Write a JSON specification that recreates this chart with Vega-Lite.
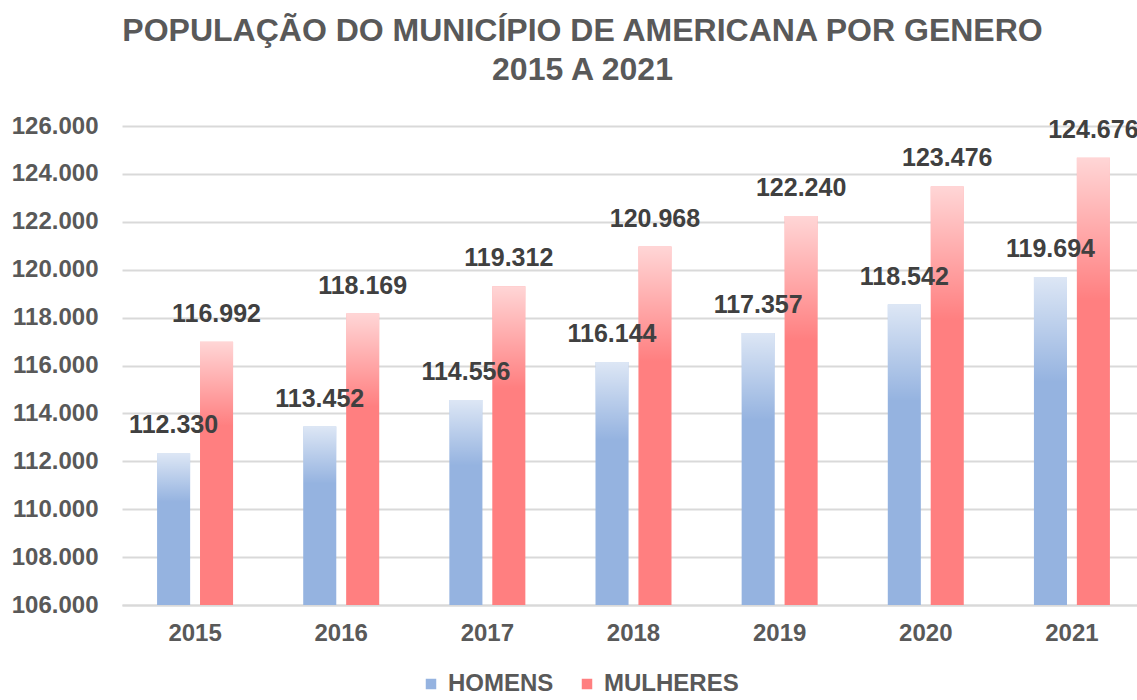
{
  "$schema": "https://vega.github.io/schema/vega-lite/v6.json",
  "autosize": {"type": "none"},
  "width": 1023,
  "height": 479,
  "padding": {"left": 122, "top": 126, "right": 0, "bottom": 95},
  "background": "white",
  "title": {
    "text": ["POPULAÇÃO DO MUNICÍPIO DE AMERICANA POR GENERO", "2015 A 2021"],
    "fontSize": 32,
    "lineHeight": 39,
    "font": "Liberation Sans",
    "fontWeight": "bold",
    "color": "#595959",
    "anchor": "middle",
    "dx": -51,
    "offset": 27
  },
  "data": {
    "values": [
      {"ano": "2015", "genero": "HOMENS", "pop": 112330},
      {"ano": "2015", "genero": "MULHERES", "pop": 116992},
      {"ano": "2016", "genero": "HOMENS", "pop": 113452},
      {"ano": "2016", "genero": "MULHERES", "pop": 118169},
      {"ano": "2017", "genero": "HOMENS", "pop": 114556},
      {"ano": "2017", "genero": "MULHERES", "pop": 119312},
      {"ano": "2018", "genero": "HOMENS", "pop": 116144},
      {"ano": "2018", "genero": "MULHERES", "pop": 120968},
      {"ano": "2019", "genero": "HOMENS", "pop": 117357},
      {"ano": "2019", "genero": "MULHERES", "pop": 122240},
      {"ano": "2020", "genero": "HOMENS", "pop": 118542},
      {"ano": "2020", "genero": "MULHERES", "pop": 123476},
      {"ano": "2021", "genero": "HOMENS", "pop": 119694},
      {"ano": "2021", "genero": "MULHERES", "pop": 124676}
    ]
  },
  "encoding": {
    "x": {
      "field": "ano",
      "type": "nominal",
      "title": null,
      "scale": {"paddingInner": 0.48, "paddingOuter": 0.24},
      "axis": {
        "labelAngle": 0,
        "labelFont": "Liberation Sans",
        "labelFontSize": 24,
        "labelFontWeight": "bold",
        "labelColor": "#595959",
        "labelPadding": 16,
        "ticks": false,
        "tickSize": 0,
        "domain": true,
        "domainColor": "#d9d9d9",
        "domainWidth": 2,
        "grid": false
      }
    },
    "xOffset": {
      "field": "genero",
      "type": "nominal",
      "scale": {"domain": ["HOMENS", "MULHERES"], "paddingInner": 0.23, "paddingOuter": 0}
    },
    "y": {
      "field": "pop",
      "type": "quantitative",
      "title": null,
      "scale": {"domain": [106000, 126000], "nice": false, "zero": false},
      "axis": {
        "values": [106000, 108000, 110000, 112000, 114000, 116000, 118000, 120000, 122000, 124000, 126000],
        "format": ",d",
        "labelFont": "Liberation Sans",
        "labelFontSize": 24,
        "labelFontWeight": "bold",
        "labelColor": "#595959",
        "labelPadding": 24,
        "ticks": false,
        "tickSize": 0,
        "domain": false,
        "grid": true,
        "gridColor": "#d9d9d9",
        "gridWidth": 2
      }
    }
  },
  "layer": [
    {
      "mark": {"type": "bar"},
      "encoding": {
        "y2": {"datum": 106000},
        "color": {
          "field": "genero",
          "type": "nominal",
          "title": null,
          "scale": {"domain": ["HOMENS", "MULHERES"], "range": ["#95b3e0", "#ff7f80"]},
          "legend": {
            "orient": "none",
            "legendX": 297,
            "legendY": 546,
            "direction": "horizontal",
            "symbolType": "square",
            "symbolSize": 110,
            "symbolStrokeWidth": 0,
            "labelFont": "Liberation Sans",
            "labelFontSize": 24,
            "labelFontWeight": "bold",
            "labelColor": "#595959",
            "labelOffset": 5,
            "columnPadding": 21
          }
        }
      }
    },
    {
      "mark": {
        "type": "bar",
        "color": {
          "gradient": "linear",
          "x1": 0, "y1": 0, "x2": 0, "y2": 1,
          "stops": [
            {"offset": 0, "color": "rgba(255,255,255,0.68)"},
            {"offset": 0.32, "color": "rgba(255,255,255,0)"},
            {"offset": 1, "color": "rgba(255,255,255,0)"}
          ]
        }
      },
      "encoding": {
        "y2": {"datum": 106000}
      }
    },
    {
      "mark": {
        "type": "text",
        "baseline": "alphabetic",
        "align": "center",
        "dy": -20,
        "font": "Liberation Sans",
        "fontSize": 25,
        "fontWeight": "bold",
        "color": "#404040"
      },
      "encoding": {
        "text": {"field": "pop", "type": "quantitative", "format": ",d"}
      }
    }
  ],
  "config": {
    "locale": {
      "number": {"decimal": ",", "thousands": ".", "grouping": [3], "currency": ["R$", ""]}
    },
    "view": {"stroke": null}
  }
}
